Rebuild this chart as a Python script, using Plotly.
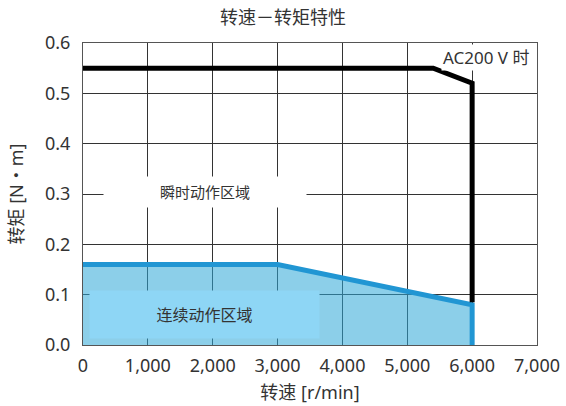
import plotly.graph_objects as go

# data
peak_speed = [0, 5400, 6000, 6000]
peak_torque = [0.55, 0.55, 0.52, 0.085]
cont_speed = [0, 3000, 6000, 6000]
cont_torque = [0.16, 0.16, 0.08, 0.0]
x_ticks = [0, 1000, 2000, 3000, 4000, 5000, 6000, 7000]
x_tick_text = ["0", "1,000", "2,000", "3,000", "4,000", "5,000", "6,000", "7,000"]
y_ticks = [0.0, 0.1, 0.2, 0.3, 0.4, 0.5, 0.6]
y_tick_text = ["0.0", "0.1", "0.2", "0.3", "0.4", "0.5", "0.6"]

FONT = "Noto Sans, Noto Sans CJK SC, sans-serif"
TXT = "#333333"

fig = go.Figure()
fig.add_trace(go.Scatter(
    x=cont_speed, y=cont_torque, mode="lines", fill="tozeroy",
    fillcolor="rgba(46,168,215,0.55)",
    line=dict(color="#2196d3", width=5), hoverinfo="skip", showlegend=False))
fig.add_trace(go.Scatter(
    x=peak_speed, y=peak_torque, mode="lines",
    line=dict(color="#000000", width=5), hoverinfo="skip", showlegend=False))

fig.add_annotation(x=1880, y=0.06, xref="x", yref="y", text="连续动作区域",
                   showarrow=False, font=dict(family=FONT, size=16, color=TXT),
                   bgcolor="#8ed6f5", width=227, height=45)
fig.add_annotation(x=1880, y=0.303, xref="x", yref="y", text="瞬时动作区域",
                   showarrow=False, font=dict(family=FONT, size=15, color=TXT),
                   bgcolor="white", width=200, height=28)
fig.add_annotation(x=1, y=1, xref="paper", yref="paper", text="AC200 V 时",
                   xanchor="right", yanchor="top", xshift=-6, yshift=-1,
                   showarrow=False, font=dict(family=FONT, size=17, color=TXT),
                   bgcolor="white", borderpad=1)

fig.update_layout(
    width=566, height=406,
    margin=dict(l=83, r=29, t=43, b=61, autoexpand=False),
    paper_bgcolor="white", plot_bgcolor="white",
    title=dict(text="转速－转矩特性", x=0.5, xanchor="center", y=0.957, yanchor="middle",
               font=dict(family=FONT, size=18, color=TXT)),
    font=dict(family=FONT, color=TXT),
    xaxis=dict(range=[0, 7000], tickvals=x_ticks, ticktext=x_tick_text,
               showgrid=True, gridcolor="#333333", gridwidth=1,
               showline=True, linecolor="#555555", linewidth=1, mirror=True,
               zeroline=False, ticks="", ticklabelstandoff=4, automargin=False,
               tickfont=dict(family=FONT, size=18, color=TXT),
               title=dict(text="转速 [r/min]", font=dict(family=FONT, size=18, color=TXT), standoff=10)),
    yaxis=dict(range=[0, 0.6], tickvals=y_ticks, ticktext=y_tick_text,
               showgrid=True, gridcolor="#333333", gridwidth=1,
               showline=True, linecolor="#555555", linewidth=1, mirror=True,
               zeroline=False, ticks="", ticklabelstandoff=8, automargin=False,
               tickfont=dict(family=FONT, size=18, color=TXT),
               title=dict(text="转矩 [N・m]", font=dict(family=FONT, size=18, color=TXT), standoff=16)),
)

fig.write_html("out.html")
